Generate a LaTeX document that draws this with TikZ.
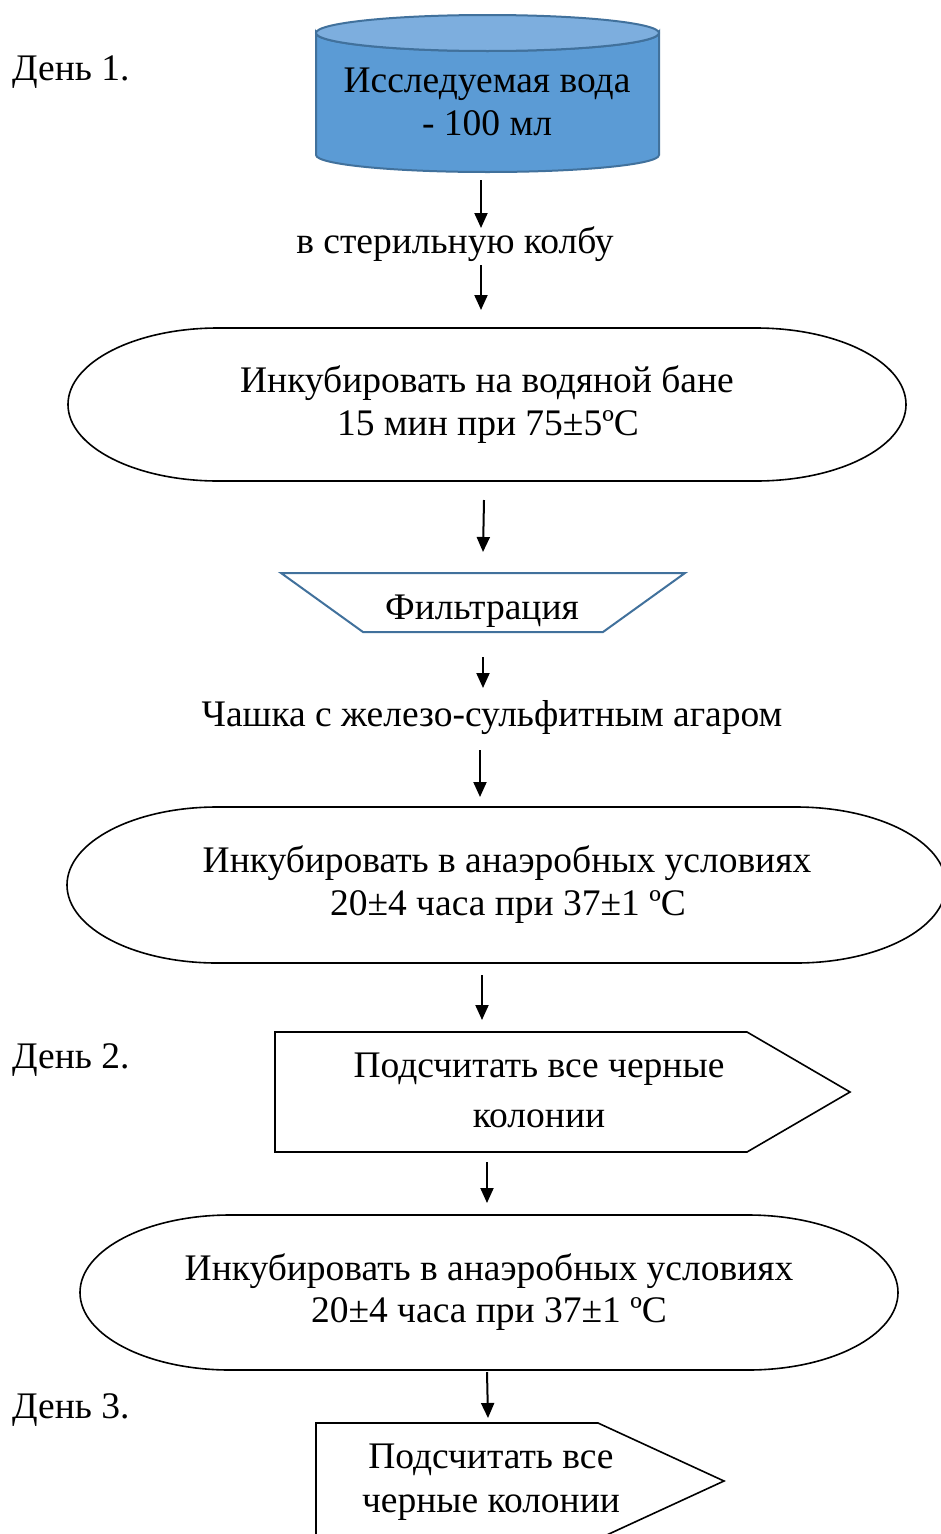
\documentclass[tikz,border=0pt]{standalone}
\usepackage{fontspec}
\setmainfont{Liberation Serif}
\usetikzlibrary{arrows.meta}
\definecolor{cylbody}{HTML}{5B9BD5}
\definecolor{cyltop}{HTML}{7DAEDE}
\definecolor{cylline}{HTML}{41719C}
\begin{document}
\begin{tikzpicture}[x=1pt,y=-1pt,
  txt/.style={font=\fontsize{37.5}{43}\selectfont, anchor=base, inner sep=0pt},
  arr/.style={-{Triangle[width=13pt,length=15pt]}, line width=2pt},
  shp/.style={line width=1.6pt, draw=black, fill=white},
  blueshp/.style={line width=2pt, draw=cylline}]
\useasboundingbox (0,0) rectangle (941,1534);
\fill[white] (0,0) rectangle (941,1534);

% Cylinder
\filldraw[blueshp, fill=cylbody] (316,33) -- (316,155)
  arc[start angle=180, end angle=0, x radius=171.5, y radius=17] -- (659,33)
  arc[start angle=0, end angle=180, x radius=171.5, y radius=18] -- cycle;
\filldraw[blueshp, fill=cyltop] (487.5,33) ellipse [x radius=171.5, y radius=18];
\node[txt] (water1) at (487,92) {Исследуемая вода};
\node[txt] (water2) at (487,135) {- 100 мл};

% Terminator 1
\filldraw[shp] (218,328) -- (756,328)
  arc[start angle=-90, end angle=90, x radius=150, y radius=76.5] -- (218,481)
  arc[start angle=90, end angle=270, x radius=150, y radius=76.5] -- cycle;
\node[txt] (inc1a) at (487,392) {Инкубировать на водяной бане};
\node[txt] (inc1b) at (488,435) {15 мин при 75±5ºС};

% Trapezoid
\filldraw[blueshp, fill=white] (281,573) -- (685,573) -- (603,632) -- (363,632) -- cycle;
\node[txt] (filt) at (482,619) {Фильтрация};

% Terminator 2
\filldraw[shp] (217,807) -- (796,807)
  arc[start angle=-90, end angle=90, x radius=150, y radius=78] -- (217,963)
  arc[start angle=90, end angle=270, x radius=150, y radius=78] -- cycle;
\node[txt] (inc2a) at (507,872) {Инкубировать в анаэробных условиях};
\node[txt] (inc2b) at (508,915) {20±4 часа при 37±1 ºС};

% Pentagon 1
\filldraw[shp] (275,1032) -- (747,1032) -- (850,1092) -- (747,1152) -- (275,1152) -- cycle;
\node[txt] (cnt1a) at (539,1077) {Подсчитать все черные};
\node[txt] (cnt1b) at (539,1127) {колонии};

% Terminator 3
\filldraw[shp] (230,1215) -- (748,1215)
  arc[start angle=-90, end angle=90, x radius=150, y radius=77.5] -- (230,1370)
  arc[start angle=90, end angle=270, x radius=150, y radius=77.5] -- cycle;
\node[txt] (inc3a) at (489,1280) {Инкубировать в анаэробных условиях};
\node[txt] (inc3b) at (489,1322) {20±4 часа при 37±1 ºС};

% Pentagon 2
\filldraw[shp] (316,1423) -- (598,1423) -- (724,1481) -- (598,1539) -- (316,1539) -- cycle;
\node[txt] (cnt2a) at (491,1468) {Подсчитать все};
\node[txt] (cnt2b) at (491,1512) {черные колонии};

% Free texts
\node[txt] (flask) at (455,253) {в стерильную колбу};
\node[txt] (dish) at (492,726) {Чашка с железо-сульфитным агаром};
\node[txt, anchor=base west] (day1) at (12,80) {День 1.};
\node[txt, anchor=base west] (day2) at (12,1068) {День 2.};
\node[txt, anchor=base west] (day3) at (12,1418) {День 3.};

% Arrow end points
\coordinate (a1s) at (481,180); \coordinate (a1e) at (481,228);
\coordinate (a2s) at (481,265); \coordinate (a2e) at (481,310);
\coordinate (a3s) at (484,500); \coordinate (a3e) at (483,552);
\coordinate (a4s) at (483,657); \coordinate (a4e) at (483,688);
\coordinate (a5s) at (480,750); \coordinate (a5e) at (480,797);
\coordinate (a6s) at (482,975); \coordinate (a6e) at (482,1020);
\coordinate (a7s) at (487,1162); \coordinate (a7e) at (487,1203);
\coordinate (a8s) at (487,1372); \coordinate (a8e) at (488,1418);

\draw[arr] (a1s) -- (a1e);
\draw[arr] (a2s) -- (a2e);
\draw[arr] (a3s) -- (a3e);
\draw[arr] (a4s) -- (a4e);
\draw[arr] (a5s) -- (a5e);
\draw[arr] (a6s) -- (a6e);
\draw[arr] (a7s) -- (a7e);
\draw[arr] (a8s) -- (a8e);
\end{tikzpicture}
\end{document}
